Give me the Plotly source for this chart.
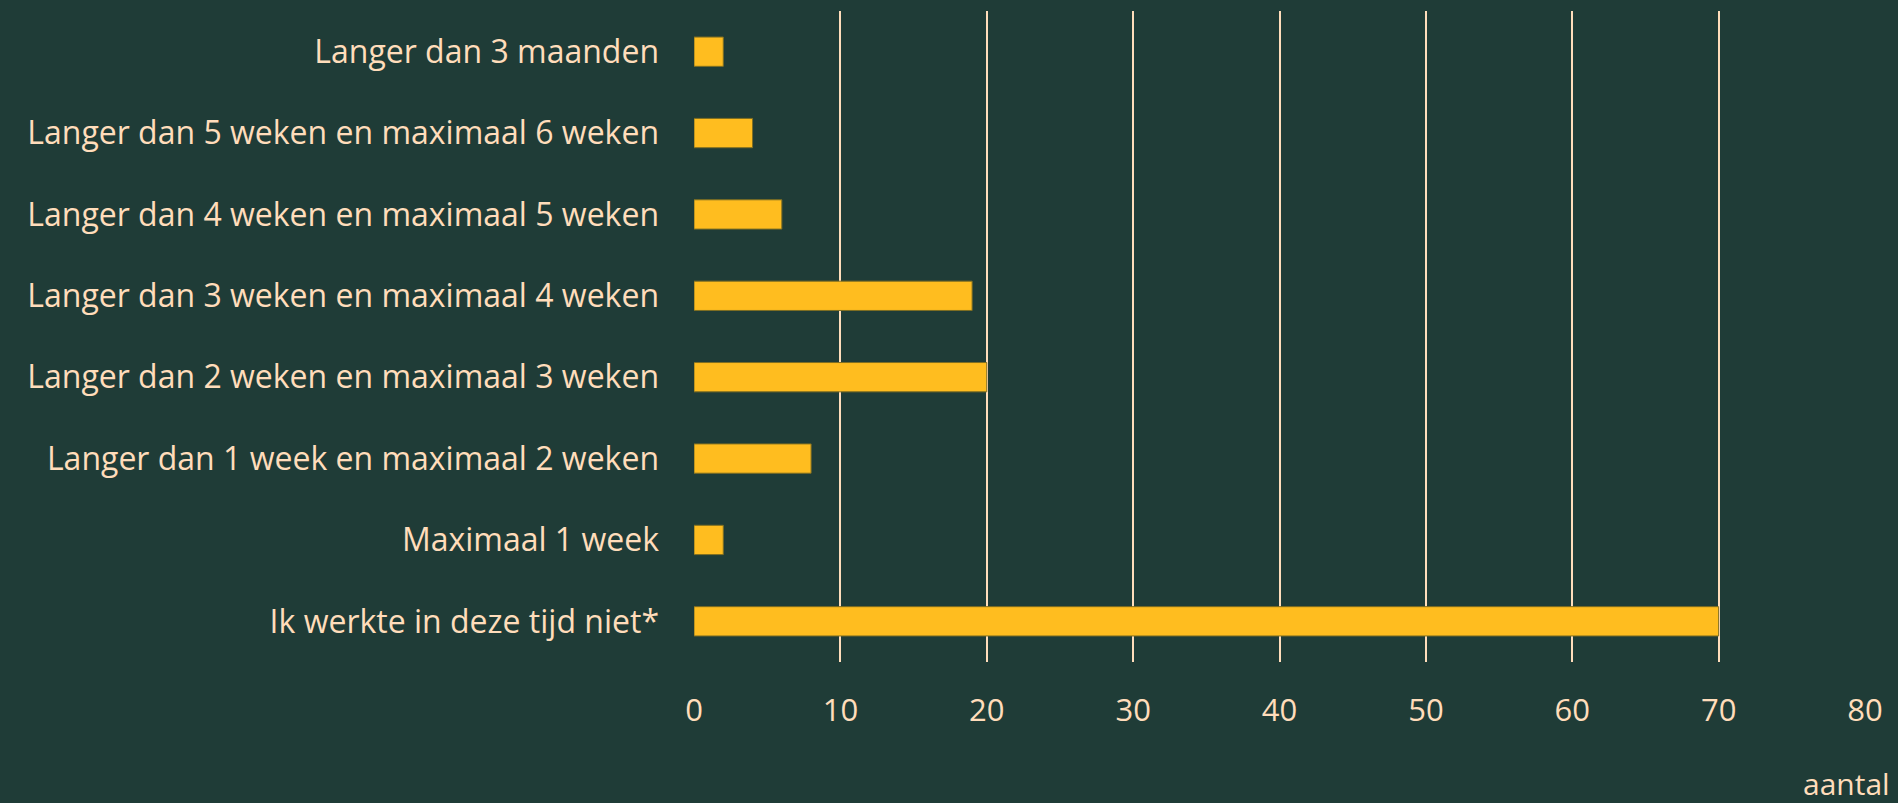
import plotly.graph_objects as go

categorieen = [
    "Ik werkte in deze tijd niet*",
    "Maximaal 1 week",
    "Langer dan 1 week en maximaal 2 weken",
    "Langer dan 2 weken en maximaal 3 weken",
    "Langer dan 3 weken en maximaal 4 weken",
    "Langer dan 4 weken en maximaal 5 weken",
    "Langer dan 5 weken en maximaal 6 weken",
    "Langer dan 3 maanden",
]
aantallen = [70, 2, 8, 20, 19, 6, 4, 2]
x_ticks = [0, 10, 20, 30, 40, 50, 60, 70, 80]

ACHTERGROND = "#1F3C37"
TEKST = "#FFDDBB"
GEEL = "#FFBD1F"

fig = go.Figure()
fig.add_trace(
    go.Bar(
        x=aantallen,
        y=categorieen,
        orientation="h",
        marker={"color": GEEL, "line": {"color": "#7F6E22", "width": 1}},
        hoverinfo="x+y",
    )
)

fig.update_layout(
    width=1898,
    height=803,
    paper_bgcolor=ACHTERGROND,
    plot_bgcolor=ACHTERGROND,
    margin={"l": 694, "r": 33, "t": 11, "b": 141},
    bargap=0.64,
    showlegend=False,
    font={"family": "Open Sans", "color": TEKST, "size": 31},
    xaxis={
        "range": [0, 80],
        "tickvals": x_ticks,
        "showgrid": True,
        "gridcolor": TEKST,
        "gridwidth": 1.5,
        "zeroline": True,
        "zerolinecolor": ACHTERGROND,
        "zerolinewidth": 2,
        "ticklabelstandoff": 27,
        "tickfont": {"size": 31, "color": TEKST},
    },
    yaxis={
        "categoryorder": "array",
        "categoryarray": categorieen,
        "showgrid": False,
        "ticklabelstandoff": 34,
        "tickfont": {"size": 32, "color": TEKST},
    },
    annotations=[
        {
            "text": "aantal",
            "xref": "paper",
            "yref": "paper",
            "x": 1,
            "y": 0,
            "xanchor": "right",
            "yanchor": "middle",
            "xshift": 27,
            "yshift": -121,
            "showarrow": False,
            "font": {"size": 30, "color": TEKST},
        }
    ],
)

# de pagina zelf zonder witte rand
fig.write_html(
    "out.html",
    config={"displayModeBar": False},
    post_script="document.body.style.margin = '0';",
)
